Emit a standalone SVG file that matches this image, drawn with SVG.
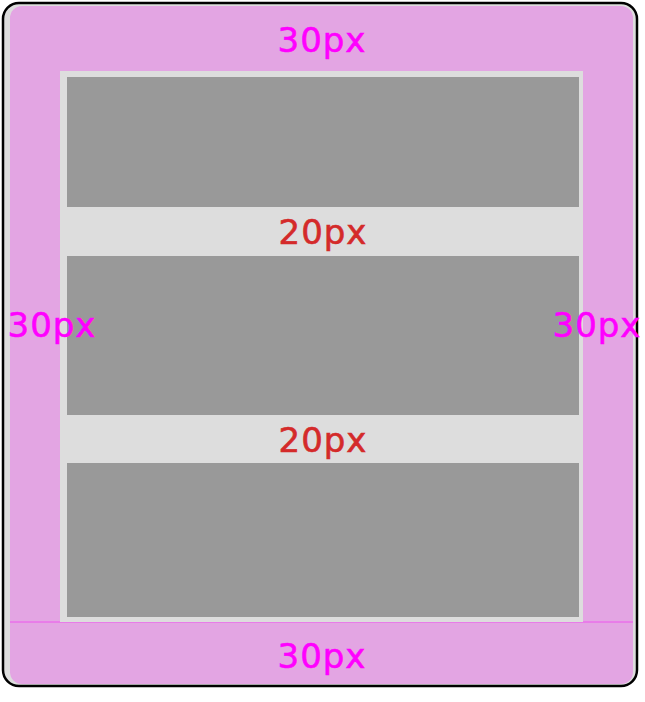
<svg xmlns="http://www.w3.org/2000/svg" width="645" height="702" viewBox="0 0 645 702">
<style>
.lbl{font-family:"DejaVu Sans",sans-serif;font-size:34px;text-anchor:middle;letter-spacing:1px;stroke-width:0.6px}
.pad{fill:#ff00ff;stroke:#ff00ff}
.gap{fill:#d42a2a;stroke:#d42a2a}
.box{fill:#999999}
</style>
<rect width="645" height="702" fill="#ffffff"/>
<g id="frame">
<rect x="3" y="3" width="634" height="683" rx="16" fill="#dddddd" stroke="#000000" stroke-width="2.5"/>
<rect x="10" y="6" width="623" height="678" rx="12" fill="#e3a5e3"/>
<line x1="10" y1="622" x2="633" y2="622" stroke="#ee55ee" stroke-width="1"/>
</g>
<g id="content">
<rect x="60" y="71" width="523" height="551" fill="#dddddd"/>
</g>
<g id="item1"><rect class="box" x="67" y="77" width="512" height="130"/></g>
<g id="item2"><rect class="box" x="67" y="256" width="512" height="159"/></g>
<g id="item3"><rect class="box" x="67" y="463" width="512" height="154"/></g>
<g id="labels">
<text class="lbl pad" x="322" y="52">30px</text>
<text class="lbl pad" x="52" y="337">30px</text>
<text class="lbl pad" x="597" y="337">30px</text>
<text class="lbl pad" x="322" y="668">30px</text>
<text class="lbl gap" x="323" y="244">20px</text>
<text class="lbl gap" x="323" y="452">20px</text>
</g>
</svg>
